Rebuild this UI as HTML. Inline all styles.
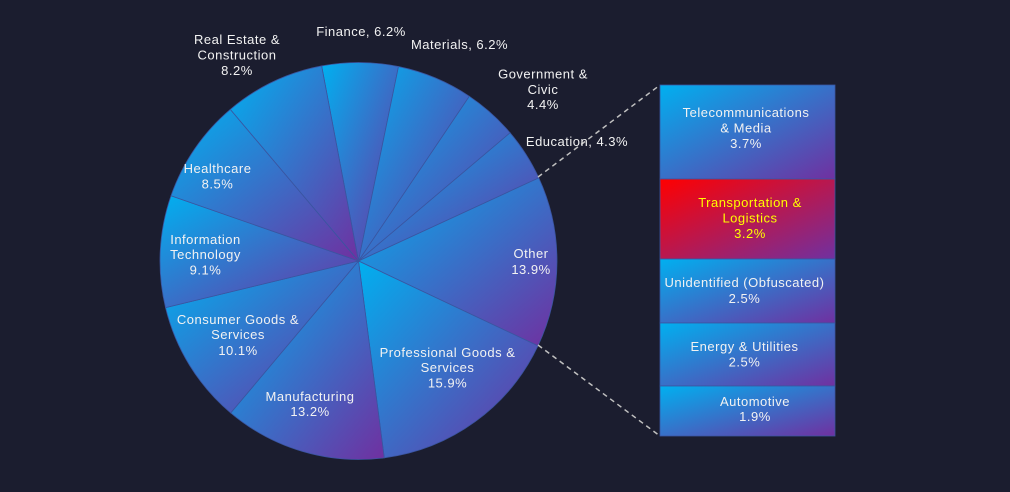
<!DOCTYPE html>
<html><head><meta charset="utf-8"><style>
html,body{margin:0;padding:0;background:#1b1d2f;}
svg{display:block;}
text{font-family:"Liberation Sans",Arial,sans-serif;font-size:13px;fill:#f2f2f2;text-anchor:middle;letter-spacing:0.5px;}
</style></head><body>
<svg width="1010" height="492" viewBox="0 0 1010 492" xmlns="http://www.w3.org/2000/svg">
<defs>
<linearGradient id="g" x1="0" y1="0" x2="1" y2="1"><stop offset="0" stop-color="#00B0F0"/><stop offset="1" stop-color="#7030A0"/></linearGradient>
<linearGradient id="r" x1="0" y1="0" x2="1" y2="1"><stop offset="0" stop-color="#FF0000"/><stop offset="1" stop-color="#7030A0"/></linearGradient>
</defs>
<rect width="1010" height="492" fill="#1b1d2f"/>
<g stroke="#3a55a0" stroke-width="0.8" fill="url(#g)">
<path d="M358.5 261 L321.64 65.95 A198.5 198.5 0 0 1 398.48 66.57 Z"/>
<path d="M358.5 261 L398.48 66.57 A198.5 198.5 0 0 1 469.33 96.32 Z"/>
<path d="M358.5 261 L469.33 96.32 A198.5 198.5 0 0 1 510.06 132.82 Z"/>
<path d="M358.5 261 L510.06 132.82 A198.5 198.5 0 0 1 538.78 177.93 Z"/>
<path d="M358.5 261 L538.78 177.93 A198.5 198.5 0 0 1 537.96 345.83 Z"/>
<path d="M358.5 261 L537.96 345.83 A198.5 198.5 0 0 1 384.27 457.82 Z"/>
<path d="M358.5 261 L384.27 457.82 A198.5 198.5 0 0 1 230.74 412.92 Z"/>
<path d="M358.5 261 L230.74 412.92 A198.5 198.5 0 0 1 165.55 307.61 Z"/>
<path d="M358.5 261 L165.55 307.61 A198.5 198.5 0 0 1 171.02 195.78 Z"/>
<path d="M358.5 261 L171.02 195.78 A198.5 198.5 0 0 1 230.34 109.42 Z"/>
<path d="M358.5 261 L230.34 109.42 A198.5 198.5 0 0 1 321.64 65.95 Z"/>
</g>
<g stroke="#3a55a0" stroke-width="0.8">
<rect x="660" y="85" width="175" height="94" fill="url(#g)"/>
<rect x="660" y="179" width="175" height="80" fill="url(#r)"/>
<rect x="660" y="259" width="175" height="64" fill="url(#g)"/>
<rect x="660" y="323" width="175" height="63" fill="url(#g)"/>
<rect x="660" y="386" width="175" height="50" fill="url(#g)"/>
</g>
<g stroke="#c0c0c0" stroke-width="1.5" stroke-dasharray="5,4" fill="none">
<line x1="538" y1="177" x2="660" y2="85"/>
<line x1="538" y1="345" x2="660" y2="436"/>
</g>
<!-- pie labels -->
<text x="237" y="44">Real Estate &amp;</text>
<text x="237" y="59.5">Construction</text>
<text x="237" y="75">8.2%</text>
<text x="361" y="36">Finance, 6.2%</text>
<text x="459.5" y="49">Materials, 6.2%</text>
<text x="543" y="78.5">Government &amp;</text>
<text x="543" y="94">Civic</text>
<text x="543" y="109">4.4%</text>
<text x="577" y="146">Education, 4.3%</text>
<text x="217.5" y="173">Healthcare</text>
<text x="217.5" y="188.5">8.5%</text>
<text x="205.5" y="244">Information</text>
<text x="205.5" y="259">Technology</text>
<text x="205.5" y="274.5">9.1%</text>
<text x="238" y="324">Consumer Goods &amp;</text>
<text x="238" y="339">Services</text>
<text x="238" y="355">10.1%</text>
<text x="310" y="401">Manufacturing</text>
<text x="310" y="416">13.2%</text>
<text x="447.5" y="357">Professional Goods &amp;</text>
<text x="447.5" y="372">Services</text>
<text x="447.5" y="387.5">15.9%</text>
<text x="531" y="258">Other</text>
<text x="531" y="274">13.9%</text>
<!-- box labels -->
<text x="746" y="117">Telecommunications</text>
<text x="746" y="132.5">&amp; Media</text>
<text x="746" y="148">3.7%</text>
<text x="750" y="207" style="fill:#ffff00">Transportation &amp;</text>
<text x="750" y="222.5" style="fill:#ffff00">Logistics</text>
<text x="750" y="238" style="fill:#ffff00">3.2%</text>
<text x="744.5" y="287">Unidentified (Obfuscated)</text>
<text x="744.5" y="303">2.5%</text>
<text x="744.5" y="351">Energy &amp; Utilities</text>
<text x="744.5" y="366.5">2.5%</text>
<text x="755" y="406">Automotive</text>
<text x="755" y="421">1.9%</text>
</svg>
</body></html>
